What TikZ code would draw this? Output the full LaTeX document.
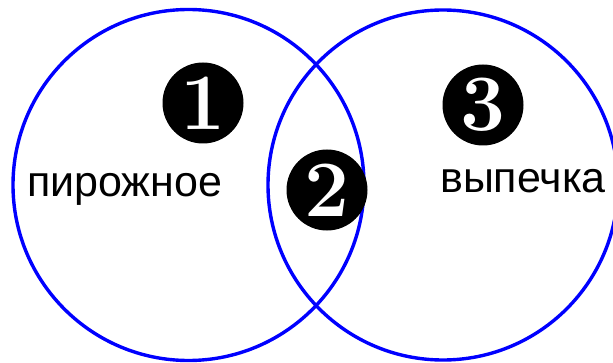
\documentclass[tikz,border=0pt]{standalone}
\usepackage{fontspec}
\newfontfamily\labelfont{Liberation Sans}
\begin{document}
\begin{tikzpicture}[x=1pt,y=1pt,
  ring/.style={draw=blue,line width=3.4pt},
  numdisc/.style={circle,fill=black,text=white,minimum size=81pt,inner sep=0pt,
    font=\fontsize{80}{80}\selectfont\bfseries},
  setlabel/.style={anchor=base west,inner sep=0pt,font=\labelfont\fontsize{43}{43}\selectfont}]
\useasboundingbox (0,0) rectangle (613,362);
\clip (0,0) rectangle (613,362);
\node[ring,circle,minimum size=351pt,inner sep=0pt] (left) at (188.5,177) {};
\node[ring,circle,minimum size=350pt,inner sep=0pt] (right) at (443,177) {};
\node[setlabel] (cake) at (27,165) {пирожное};
\node[setlabel] (pastry) at (440,170) {выпечка};
\node[numdisc] (n1) at (203,259) {1};
\node[numdisc] (n2) at (327,172) {2};
\node[numdisc] (n3) at (483,257) {3};
\end{tikzpicture}
\end{document}
